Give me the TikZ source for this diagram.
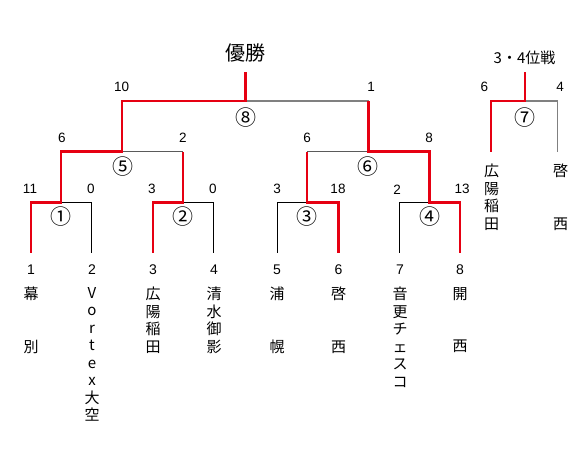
\documentclass[tikz,border=0pt]{standalone}
\usepackage{fontspec}
\setmainfont{Liberation Sans}
\newfontfamily\cjk{Noto Sans CJK JP}
\definecolor{winred}{RGB}{230,0,18}
\definecolor{losegray}{RGB}{128,128,128}
\definecolor{midgray}{RGB}{90,90,90}
\tikzset{
  win/.style={draw=winred,line width=2.6pt,line join=miter},
  loseA/.style={draw=black,line width=1pt},
  loseB/.style={draw=midgray,line width=1.2pt},
  loseC/.style={draw=losegray,line width=1.5pt},
  score/.style={font=\fontsize{13.5}{14}\selectfont,inner sep=0pt},
  mnum/.style={font=\cjk\fontsize{21}{21}\selectfont,inner sep=0pt},
  tnum/.style={font=\fontsize{14}{14}\selectfont,inner sep=0pt},
  tname/.style={font=\cjk\fontsize{15}{17.5}\selectfont,align=center,inner sep=0pt,anchor=north},
  title/.style={font=\cjk\fontsize{20}{20}\selectfont,inner sep=0pt},
}
\begin{document}
\begin{tikzpicture}[x=1pt,y=-1pt]
\useasboundingbox (0,0) rectangle (580,450);
% leaves
\foreach \n/\x in {1/31,2/91.5,3/153,4/213.7,5/277.5,6/338.5,7/399.5,8/460}{
  \coordinate (b\n) at (\x,252.7);
  \coordinate (t\n) at (\x,202.3);
}
% round 1 junctions
\foreach \n/\x in {1/61,2/183,3/307,4/429.5}{
  \coordinate (j\n) at (\x,202.3);
  \coordinate (u\n) at (\x,151.7);
}
% round 2 junctions
\foreach \n/\x in {5/122,6/368.5}{
  \coordinate (j\n) at (\x,151.7);
  \coordinate (u\n) at (\x,101);
}
\coordinate (jF) at (245.7,101);
\coordinate (uF) at (245.7,72.3);
% third place
\coordinate (p1) at (491,151.7);
\coordinate (q1) at (491,101);
\coordinate (p2) at (557.3,151.7);
\coordinate (q2) at (557.3,101);
\coordinate (jT) at (525,101);
\coordinate (uT) at (525,72.3);

% losers
\draw[loseA] (j1) -- (t2) -- (b2);
\draw[loseA] (j2) -- (t4) -- (b4);
\draw[loseA] (j3) -- (t5) -- (b5);
\draw[loseA] (j4) -- (t7) -- (b7);
\draw[loseB] (j5) -- (u2);
\draw[loseB] (j6) -- (u3);
\draw[loseC] (jF) -- (u6);
\draw[loseC] (jT) -- (q2) -- (p2);
% winners
\draw[win] (b1) -- (t1) -- (j1) -- (u1) -- (j5) -- (u5) -- (jF) -- (uF);
\draw[win] (b3) -- (t3) -- (j2) -- (u2);
\draw[win] (b6) -- (t6) -- (j3) -- (u3);
\draw[win] (b8) -- (t8) -- (j4) -- (u4) -- (j6) -- (u6);
\draw[win] (p1) -- (q1) -- (jT) -- (uT);

% titles
\node[title] (champ) at (245,53) {優勝};
\node[font=\cjk\fontsize{15}{15}\selectfont,inner sep=0pt] (third) at (524.5,58) {3・4位戦};

% match numbers
\node[mnum] (m1) at (61,216.7) {①};
\node[mnum] (m2) at (183,216.7) {②};
\node[mnum] (m3) at (307.3,216.7) {③};
\node[mnum] (m4) at (430,216.7) {④};
\node[mnum] (m5) at (122.7,166.7) {⑤};
\node[mnum] (m6) at (368.3,166.7) {⑥};
\node[mnum] (m7) at (525,117.3) {⑦};
\node[mnum] (m8) at (245.5,117.3) {⑧};

% scores
\node[score] (s1) at (30,189.3) {11};
\node[score] (s2) at (91,189.3) {0};
\node[score] (s3) at (152,189.3) {3};
\node[score] (s4) at (213,189.3) {0};
\node[score] (s5) at (277,189.3) {3};
\node[score] (s6) at (338,189.3) {18};
\node[score] (s7) at (397,189.3) {2};
\node[score] (s8) at (462,189.3) {13};
\node[score] (s9) at (62,138) {6};
\node[score] (s10) at (183,138) {2};
\node[score] (s11) at (307,138) {6};
\node[score] (s12) at (429,138) {8};
\node[score] (s13) at (121.7,86.7) {10};
\node[score] (s14) at (371,86.7) {1};
\node[score] (s15) at (484.3,86.7) {6};
\node[score] (s16) at (560,86.7) {4};

% team numbers
\foreach \n/\x in {1/31,2/92,3/153,4/214,5/277,6/338.5,7/400,8/460}{
  \node[tnum] (n\n) at (\x,270) {\n};
}
% team names
\node[tname] (a1) at (31,287) {幕\\　\\　\\別};
\node[tname] (a2) at (92,287) {V\\o\\r\\t\\e\\x\\大\\空};
\node[tname] (a3) at (153,287) {広\\陽\\稲\\田};
\node[tname] (a4) at (214,287) {清\\水\\御\\影};
\node[tname] (a5) at (277,287) {浦\\　\\　\\幌};
\node[tname] (a6) at (338.5,287) {啓\\　\\　\\西};
\node[tname] (a7) at (400,287) {音\\更\\チ\\ェ\\ス\\コ};
\node[tname] (a8) at (460,287) {開\\　\\　\\西};
\node[tname] (a9) at (491.7,163.7) {広\\陽\\稲\\田};
\node[tname] (a10) at (560.7,163.7) {啓\\　\\　\\西};
\end{tikzpicture}
\end{document}
